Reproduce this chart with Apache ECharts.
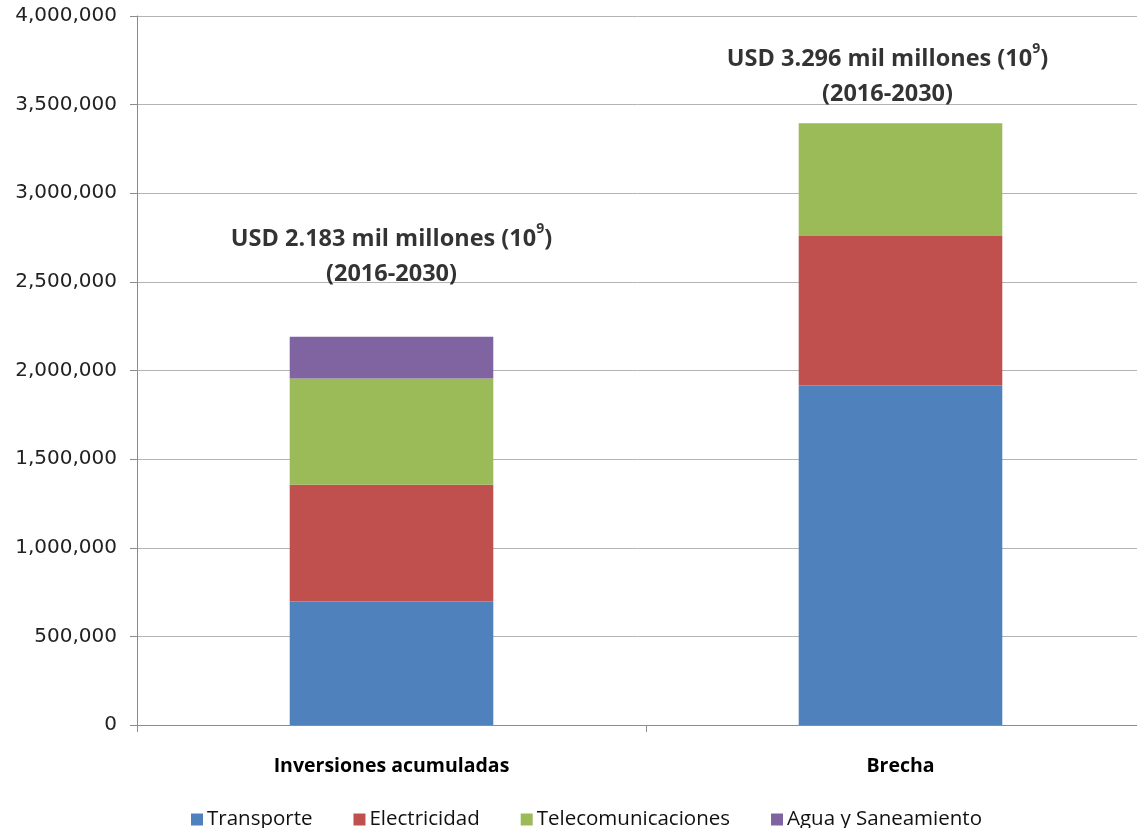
<!DOCTYPE html>
<html>
<head>
<meta charset="utf-8">
<script src="https://cdn.jsdelivr.net/npm/echarts@6/dist/echarts.min.js"></script>
<style>
  html, body { margin: 0; padding: 0; background: #fff; }
  #chart { width: 1137px; height: 828px; }
</style>
</head>
<body>
<div id="chart"></div>
<script>
// categories and stacked values (USD millones)
const categories = ['Inversiones acumuladas', 'Brecha']
const transporte = [697000, 1915000]
const electricidad = [659000, 844000]
const telecomunicaciones = [599000, 636000]
const aguaSaneamiento = [235000, 0]

// annotation texts above each bar, and the y value where each one sits
const annotTotals = ['2.183', '3.296']
const annotY = [2643000, 3657000]

const seriesNames = ['Transporte', 'Electricidad', 'Telecomunicaciones', 'Agua y Saneamiento']
const seriesColors = ['#4F81BD', '#C0504D', '#9BBB59', '#8064A2']
const seriesValues = [transporte, electricidad, telecomunicaciones, aguaSaneamiento]

const chart = echarts.init(document.getElementById('chart'))

const barSeries = seriesNames.map((name, i) => {
  return {
    name: name,
    type: 'bar',
    stack: 'total',
    barWidth: '40%',
    data: seriesValues[i],
    itemStyle: { color: seriesColors[i] },
    emphasis: { disabled: true }
  }
})

const annotSeries = {
  type: 'scatter',
  symbolSize: 0,
  silent: true,
  z: 10,
  data: categories.map((c, i) => {
    return {
      value: [c, annotY[i]],
      label: { offset: i === 1 ? [-13, 0] : [0, 0] }
    }
  }),
  label: {
    show: true,
    position: 'inside',
    formatter: (p) => '{b|USD ' + annotTotals[p.dataIndex] + ' mil millones (10}{s|9}{b|)}\n{b|(2016-2030)}',
    rich: {
      b: {
        fontFamily: 'Open Sans',
        fontWeight: 'bold',
        fontSize: 23.5,
        color: '#000',
        lineHeight: 35
      },
      s: {
        fontFamily: 'Open Sans',
        fontWeight: 'bold',
        fontSize: 14,
        color: '#000',
        lineHeight: 35,
        verticalAlign: 'top',
        padding: [0, 0, 3, 0]
      }
    }
  }
}

const option = {
  animation: false,
  backgroundColor: '#fff',
  grid: {
    left: 137,
    width: 1018,
    top: 16,
    bottom: 103,
    outerBoundsMode: 'none'
  },
  legend: {
    data: seriesNames,
    left: 186,
    top: 804,
    itemWidth: 12,
    itemHeight: 12,
    itemGap: 41,
    icon: 'rect',
    textStyle: {
      fontFamily: 'Open Sans',
      fontSize: 20.5,
      color: '#111',
      padding: [0, 0, 0, -1]
    }
  },
  xAxis: {
    type: 'category',
    data: categories,
    axisLine: { lineStyle: { color: '#8c8c8c', width: 1 } },
    axisTick: { show: true, length: 7, lineStyle: { color: '#8c8c8c' } },
    axisLabel: {
      margin: 31,
      fontFamily: 'Open Sans',
      fontWeight: 'bold',
      fontSize: 19.5,
      color: '#000'
    }
  },
  yAxis: {
    type: 'value',
    min: 0,
    max: 4000000,
    interval: 500000,
    axisLine: { show: true, lineStyle: { color: '#8c8c8c', width: 1 } },
    axisTick: { show: true, length: 7, lineStyle: { color: '#8c8c8c' } },
    splitLine: { lineStyle: { color: '#b4b4b4', width: 1 } },
    axisLabel: {
      margin: 20,
      fontFamily: 'DejaVu Sans',
      fontSize: 20,
      color: '#222',
      formatter: (v) => v.toLocaleString('en-US')
    }
  },
  series: [...barSeries, annotSeries]
}

chart.setOption(option)
</script>
</body>
</html>
